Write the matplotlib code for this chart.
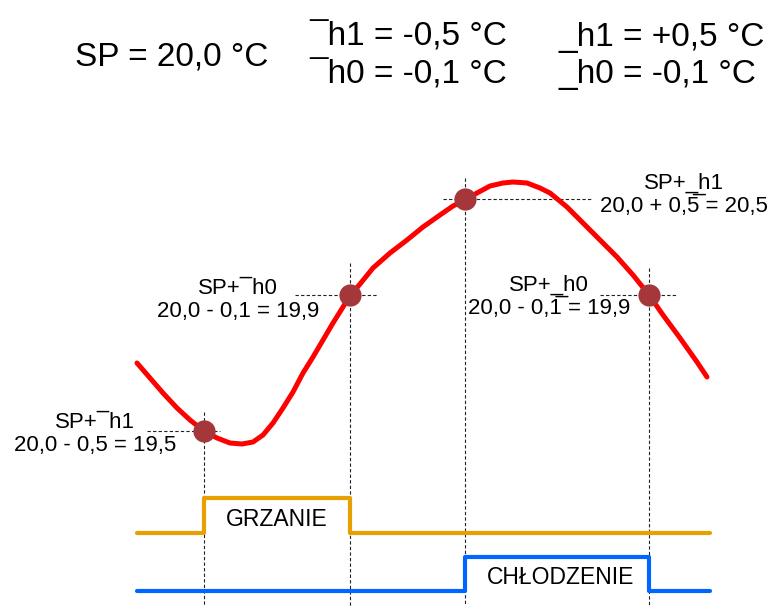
import matplotlib
matplotlib.use("Agg")
import matplotlib.pyplot as plt

plt.rcParams['font.family'] = ['Liberation Sans', 'DejaVu Sans']

# --- schematic data (diagram units, y grows downward) ---
curve_t = [137, 150, 163, 177, 190, 204, 217, 230, 242, 253, 263, 273, 283,
           293, 303, 313, 323, 333, 343, 350, 360, 373, 390, 407, 423, 440,
           453, 465, 477, 490, 503, 513, 527, 540, 550, 567, 583, 600, 617,
           633, 649, 663, 680, 697, 707]
curve_y = [363, 378, 393, 408, 420, 431, 438, 443, 444, 442, 435, 423, 408,
           392, 373, 357, 340, 323, 307, 296, 284, 268, 253, 240, 227, 215,
           206, 200, 193, 186, 183, 182, 183, 188, 193, 207, 223, 240, 257,
           275, 295, 315, 338, 362, 377]

switch_t = [204, 350, 465, 649]
switch_y = [431, 295, 199, 295]

t_start, t_end = 137, 710
heat_low, heat_high = 533, 498
cool_low, cool_high = 591, 557

# guide lines: top of vertical, left / right ends of horizontal
vert_top = [412, 263, 178, 268]
horiz_left = [147, 295, 443, 600]
horiz_right = [220, 378, 593, 677]

header_left = ["¯h1 = -0,5 °C", "¯h0 = -0,1 °C"]
header_right = ["_h1 = +0,5 °C", "_h0 = -0,1 °C"]

labels = [
    ("SP+¯h1", "20,0 - 0,5 = 19,5", 95, 423),
    ("SP+¯h0", "20,0 - 0,1 = 19,9", 238, 288),
    ("SP+_h1", "20,0 + 0,5\u0305 = 20,5", 684, 183),
    ("SP+_h0", "20,0 - 0,1\u0305 = 19,9", 549, 285),
]

fig = plt.figure(figsize=(7.73, 6.06), dpi=100)
ax = fig.add_axes([0, 0, 1, 1])
ax.set_xlim(0, 773)
ax.set_ylim(606, 0)
ax.axis('off')

dash = dict(color='#222222', lw=0.8, ls=(0, (3, 2)), zorder=1)
for t, y, top, l, r in zip(switch_t, switch_y, vert_top, horiz_left, horiz_right):
    ax.plot([t, t], [top, 606], **dash)
    ax.plot([l, r], [y, y], **dash)

ax.plot(curve_t, curve_y, color='#ff0000', lw=3.6, solid_capstyle='round',
        solid_joinstyle='round', zorder=2)
ax.plot(switch_t, switch_y, 'o', color='#a5373a', ms=16, mew=0, zorder=3)

# heating / cooling outputs
heat_x = [t_start, switch_t[0], switch_t[0], switch_t[1], switch_t[1], t_end]
heat_y = [heat_low, heat_low, heat_high, heat_high, heat_low, heat_low]
cool_x = [t_start, switch_t[2], switch_t[2], switch_t[3], switch_t[3], t_end]
cool_y = [cool_low, cool_low, cool_high, cool_high, cool_low, cool_low]
ax.plot(heat_x, heat_y, color='#e8a000', lw=3, solid_capstyle='round', zorder=2)
ax.plot(cool_x, cool_y, color='#0066ff', lw=3, solid_capstyle='round', zorder=2)
ax.text(277, 519, "GRZANIE", ha='center', va='center', fontsize=16.5)
ax.text(561, 578, "CHŁODZENIE", ha='center', va='center', fontsize=16.5)

# header
ax.text(75, 65, "SP = 20,0 °C", ha='left', va='baseline', fontsize=24)
for i, (a, b) in enumerate(zip(header_left, header_right)):
    ax.text(309, 46 + 37 * i, a, ha='left', va='baseline', fontsize=24)
    ax.text(558, 46 + 37 * i, b, ha='left', va='baseline', fontsize=24)

for top, bottom, x, y in labels:
    ax.text(x, y, top, ha='center', va='center', fontsize=16)
    ax.text(x, y + 23, bottom, ha='center', va='center', fontsize=16)

fig.savefig("out.png", dpi=100)
